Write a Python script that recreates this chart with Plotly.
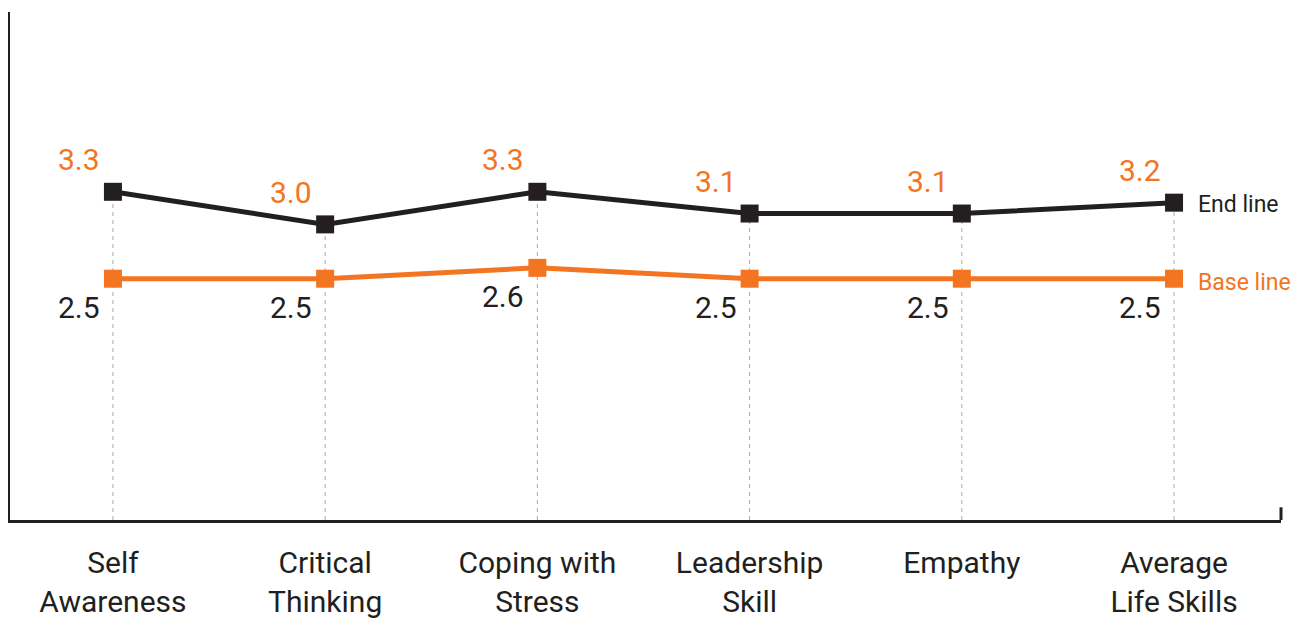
import plotly.graph_objects as go

categories = ["Self<br>Awareness", "Critical<br>Thinking", "Coping with<br>Stress",
              "Leadership<br>Skill", "Empathy", "Average<br>Life Skills"]
end_line = [3.3, 3.0, 3.3, 3.1, 3.1, 3.2]
base_line = [2.5, 2.5, 2.6, 2.5, 2.5, 2.5]

BLACK = "#231f20"
ORANGE = "#f37521"
FONT = "Roboto"
idx = list(range(len(categories)))
y_min, y_max = 0.279, 4.955

fig = go.Figure()

# dashed drop lines
dx, dy = [], []
for i, v in zip(idx, end_line):
    dx += [i, i, None]
    dy += [y_min, v, None]
fig.add_trace(go.Scatter(x=dx, y=dy, mode="lines",
                         line=dict(color="#aaaaaa", width=1, dash="4px,4px"),
                         hoverinfo="skip", showlegend=False))

fig.add_trace(go.Scatter(x=idx, y=base_line, mode="lines+markers", name="Base line",
                         line=dict(color=ORANGE, width=5),
                         marker=dict(symbol="square", size=18, color=ORANGE),
                         showlegend=False))
fig.add_trace(go.Scatter(x=idx, y=end_line, mode="lines+markers", name="End line",
                         line=dict(color=BLACK, width=5),
                         marker=dict(symbol="square", size=18, color=BLACK),
                         showlegend=False))

annotations = []
for i, v in zip(idx, end_line):
    annotations.append(dict(x=i, y=v, text=f"{v:.1f}", showarrow=False,
                            xshift=-34, yshift=32,
                            font=dict(family=FONT, size=30, color=ORANGE)))
for i, v in zip(idx, base_line):
    annotations.append(dict(x=i, y=v, text=f"{v:.1f}", showarrow=False,
                            xshift=-34, yshift=-29,
                            font=dict(family=FONT, size=30, color=BLACK)))
annotations.append(dict(x=idx[-1], y=end_line[-1], text="End line", showarrow=False,
                        xanchor="left", xshift=22, yshift=-2,
                        font=dict(family=FONT, size=23, color=BLACK)))
annotations.append(dict(x=idx[-1], y=base_line[-1], text="Base line", showarrow=False,
                        xanchor="left", xshift=22, yshift=-4,
                        font=dict(family=FONT, size=23, color=ORANGE)))

fig.update_layout(
    width=1298, height=613,
    margin=dict(l=2, r=25, t=4, b=100.5, autoexpand=False),
    paper_bgcolor="white", plot_bgcolor="white",
    font=dict(family=FONT, color=BLACK),
    annotations=annotations,
    shapes=[dict(type="line", xref="paper", yref="paper", x0=1, x1=1, y0=0, y1=0.025,
                 line=dict(color=BLACK, width=3))],
    xaxis=dict(range=[-0.485, 5.504], tickvals=idx, ticktext=categories,
               showgrid=False, zeroline=False, showline=True, linecolor=BLACK, linewidth=3,
               ticks="outside", ticklen=14, tickcolor="rgba(0,0,0,0)",
               tickfont=dict(family=FONT, size=30, color=BLACK)),
    yaxis=dict(range=[y_min, y_max], showgrid=False, zeroline=False, showticklabels=False,
               showline=True, linecolor=BLACK, linewidth=3, ticks=""),
)

fig.write_html("out.html")
